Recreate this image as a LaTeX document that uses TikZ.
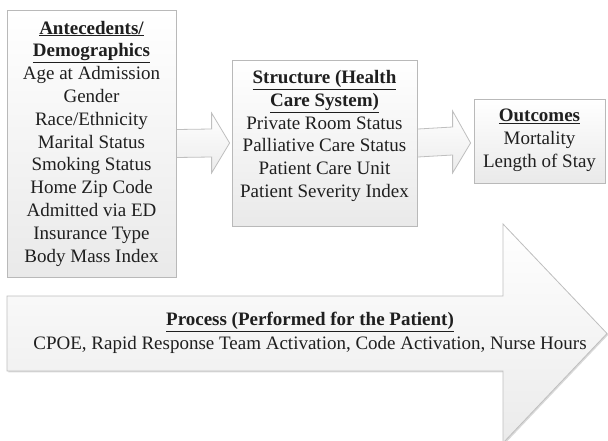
\documentclass[tikz,border=0pt]{standalone}
\usepackage{fontspec}
\setmainfont{Liberation Serif}
\usetikzlibrary{calc,shadows}
\begin{document}
\begin{tikzpicture}[x=1pt,y=-1pt,
  box/.style={draw=gray!55, line width=0.8pt, top color=white, bottom color=gray!17,
    drop shadow={shadow xshift=1.3pt, shadow yshift=-1.3pt, opacity=0.35}, inner sep=0pt},
  txt/.style={align=center, font=\fontsize{19}{22.8}\selectfont, text=black!88, inner sep=0pt},
  barrow/.style={draw=gray!50, line width=0.8pt, top color=white, bottom color=gray!15, line join=miter},
  bigarrow/.style={draw=gray!50, line width=0.8pt, top color=white, bottom color=gray!16, line join=miter,
    drop shadow={shadow xshift=1.3pt, shadow yshift=-1.3pt, opacity=0.3}}]
\useasboundingbox (0,0) rectangle (608,441);

% big process arrow
\draw[bigarrow] (7,296) -- (503,296) -- (503,224) -- (607,333.5) -- (503,443) -- (503,371) -- (7,371) -- cycle;
\node[txt] (P) at (310,333) {\textbf{\underline{Process (Performed for the Patient)}}\\[1pt]
  CPOE, Rapid Response Team Activation, Code Activation, Nurse Hours};

% boxes
\node[box, minimum width=169pt, minimum height=267pt] (L) at (91.5,143.5) {};
\node[box, minimum width=185pt, minimum height=166pt] (M) at (324.5,143) {};
\node[box, minimum width=131pt, minimum height=84pt] (R) at (539.5,141) {};

\node[txt] (Lt) at (L.center) {\textbf{\underline{Antecedents/}}\\ \textbf{\underline{Demographics}}\\
  Age at Admission\\ Gender\\ Race/Ethnicity\\ Marital Status\\ Smoking Status\\
  Home Zip Code\\ Admitted via ED\\ Insurance Type\\ Body Mass Index};
\node[txt] (Mt) at ($(M.center)+(0,-7)$) {\textbf{\underline{Structure (Health}}\\ \textbf{\underline{Care System)}}\\
  Private Room Status\\ Palliative Care Status\\ Patient Care Unit\\ Patient Severity Index};
\node[txt] (Rt) at ($(R.center)+(0,-1)$) {\textbf{\underline{Outcomes}}\\ Mortality\\ Length of Stay};

% connector arrows
\draw[barrow] ($(L.east)+(0.6,-14)$) -- ($(M.west)+(-20,-14)$) -- ($(M.west)+(-20,-30)$)
  -- ($(M.west)+(-2,0)$) -- ($(M.west)+(-20,30)$) -- ($(M.west)+(-20,14)$) -- ($(L.east)+(0.6,14)$);
\draw[barrow] ($(M.east)+(0.6,-14)$) -- ($(R.west)+(-21,-14)$) -- ($(R.west)+(-21,-30)$)
  -- ($(R.west)+(-3,2)$) -- ($(R.west)+(-21,32)$) -- ($(R.west)+(-21,14)$) -- ($(M.east)+(0.6,14)$);
\end{tikzpicture}
\end{document}
